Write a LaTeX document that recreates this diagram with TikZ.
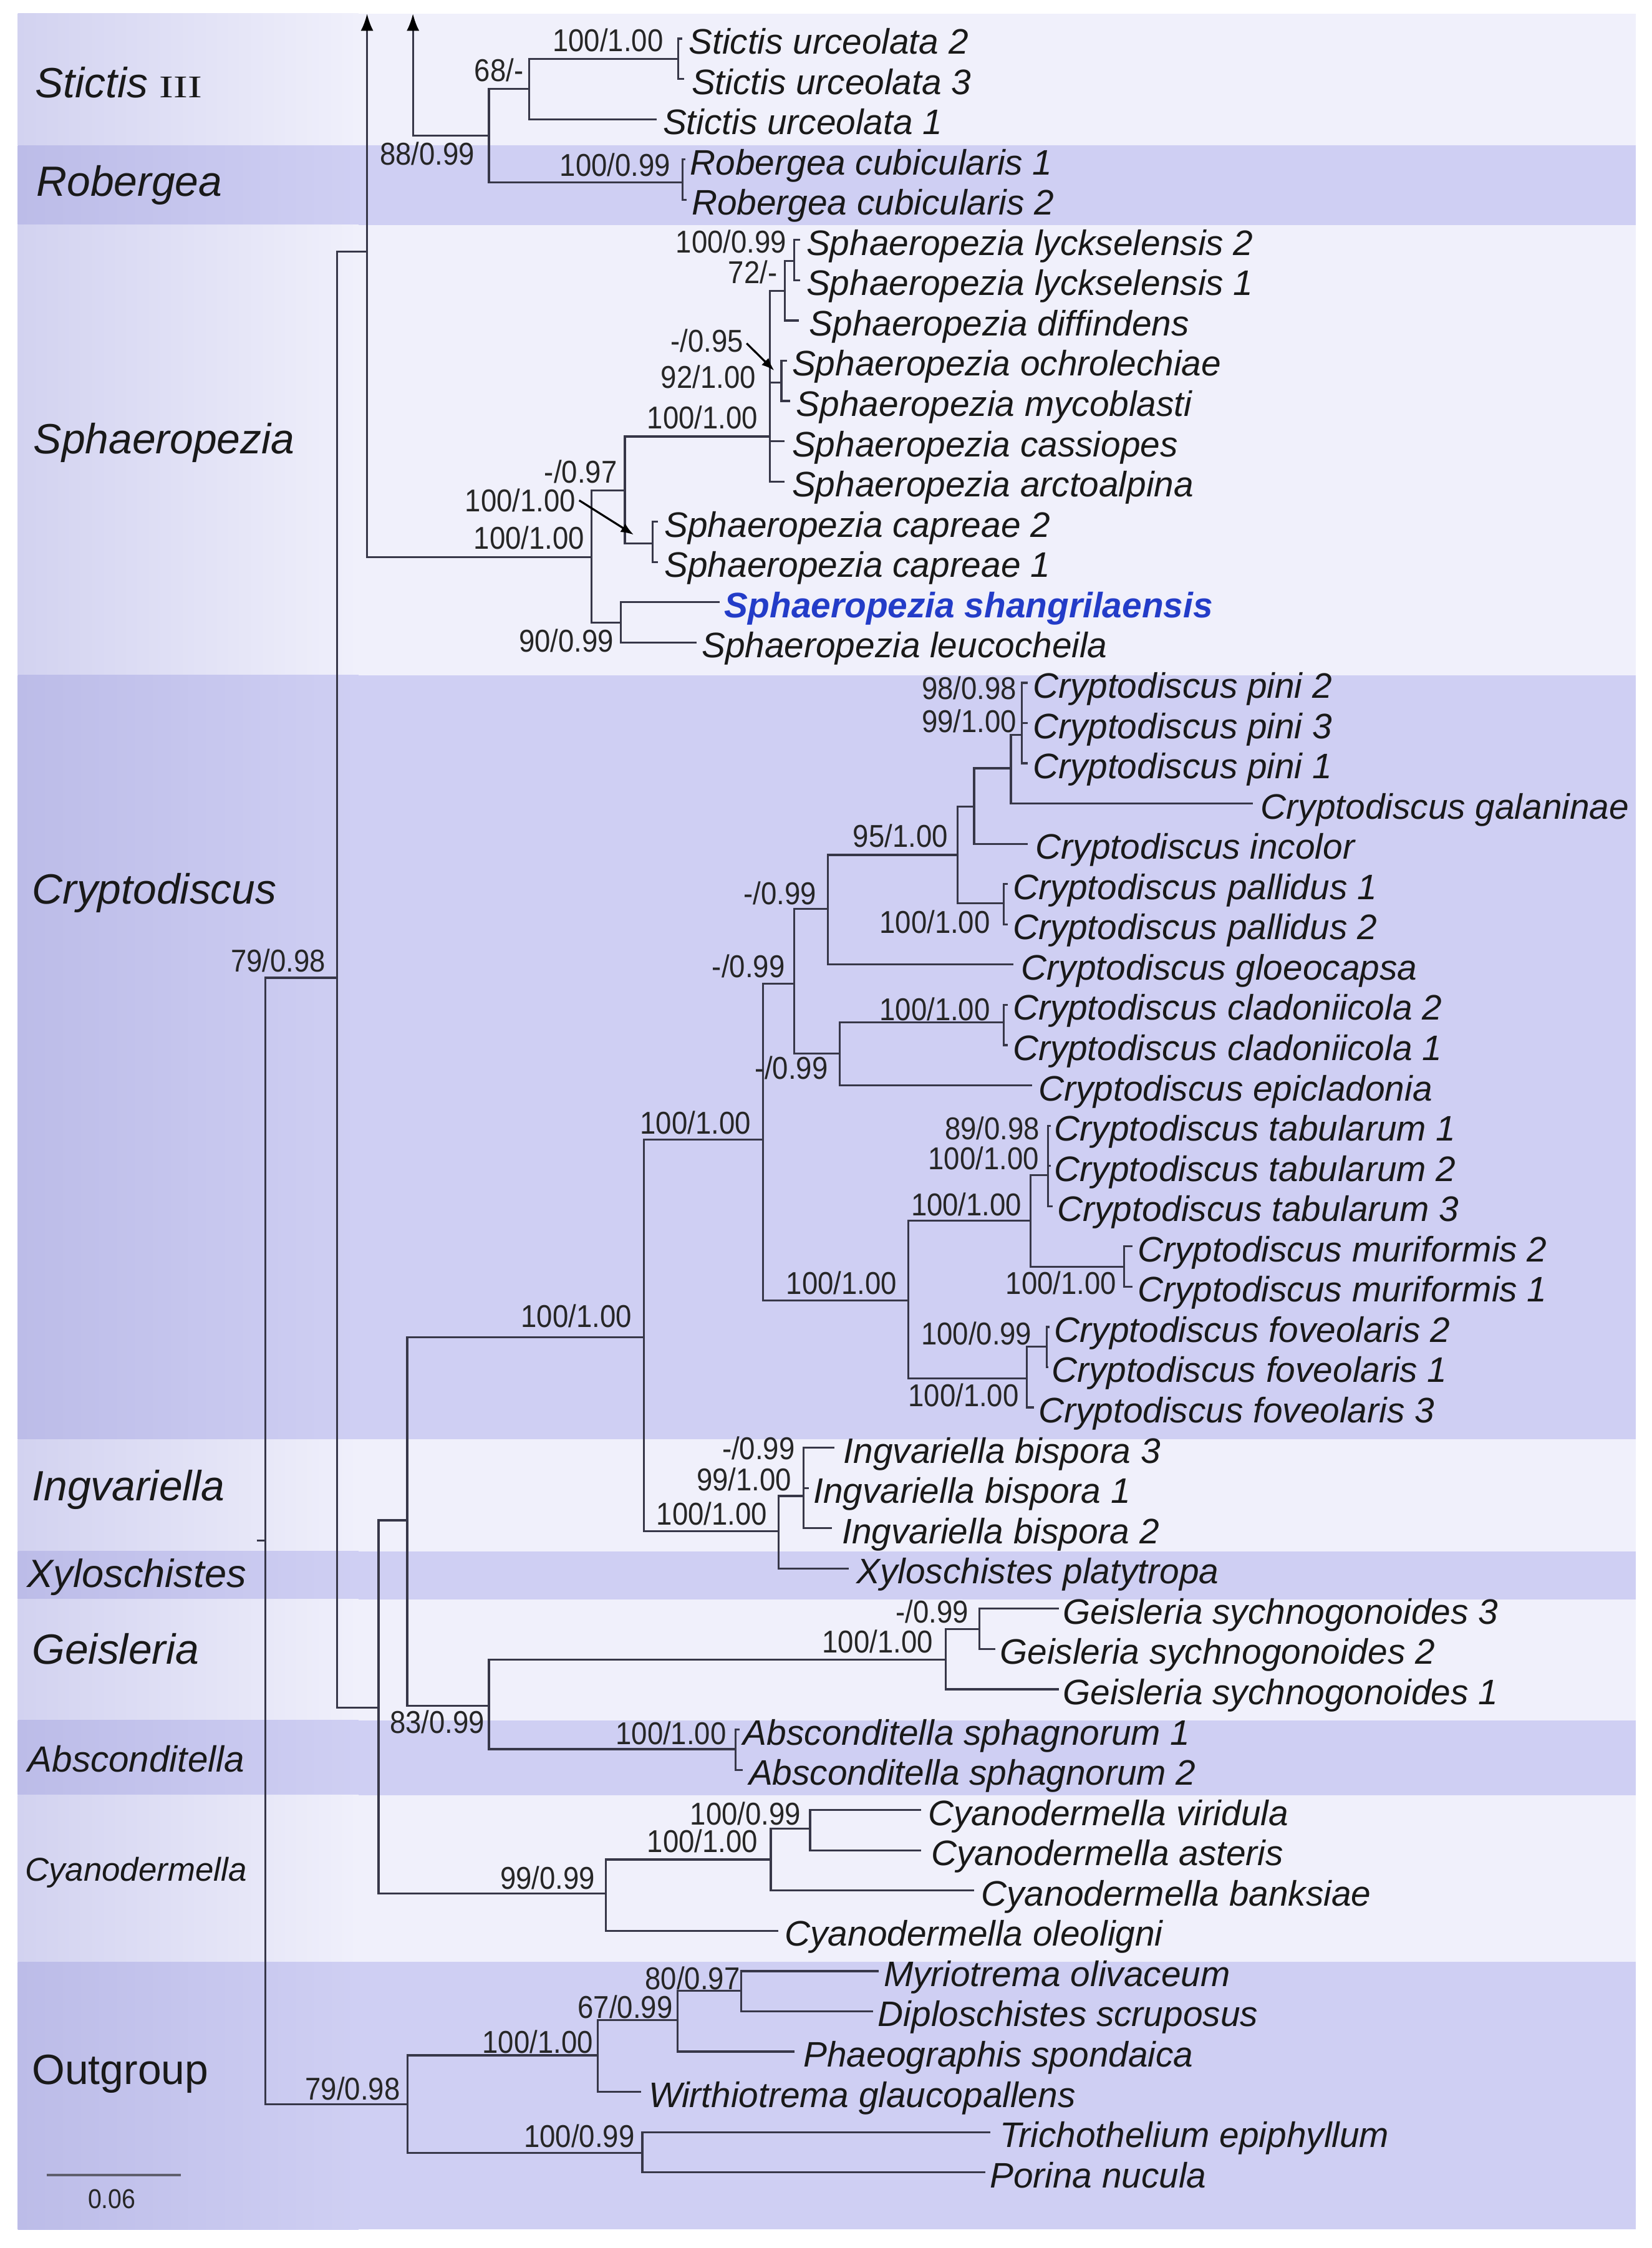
\documentclass[tikz,border=0pt]{standalone}
\usepackage{fontspec}
\setmainfont{Liberation Sans}
\newfontfamily\supfont[FakeStretch=0.9]{Liberation Sans}
\newfontfamily\romfont{Liberation Serif}
\usetikzlibrary{arrows.meta}
\definecolor{lightband}{RGB}{240,240,251}
\definecolor{lightleft}{RGB}{210,210,240}
\definecolor{darkband}{RGB}{207,207,243}
\definecolor{darkleft}{RGB}{188,188,232}
\definecolor{branch}{RGB}{55,55,72}
\definecolor{hilite}{RGB}{35,60,200}
\tikzset{
 br/.style={draw=branch, line width=0.7pt},
 taxon/.style={anchor=base west, inner sep=0pt, font=\fontsize{12.35}{14}\selectfont\itshape, text=black!90},
 supp/.style={anchor=center, inner sep=0pt, font=\supfont\fontsize{11}{13}\selectfont, text=black!85},
 grp/.style={anchor=base west, inner sep=0pt, font=\fontsize{14.75}{17}\selectfont\itshape, text=black!90},
 ptr/.style={draw=black, line width=0.7pt, -{Latex[length=4.5pt,width=3.4pt]}},
 uparrow/.style={-{Latex[length=6pt,width=4.4pt,fill=black,color=black]}},
}
\newcommand\band[4]{\fill[#4] (12.5,#1) rectangle (1141,#2);
  \shade[left color=#3, right color=#4] (12.5,#1) rectangle (250,#2);}
\newcommand\Leaf[5]{\coordinate (t#1) at (#2,#4-2); \node[taxon] (l#1) at (#3,#4+8.6) {#5};}
\newcommand\Sup[4]{\node[supp] (#1) at (#2,#3) {#4};}
\begin{document}
\begin{tikzpicture}[x=0.5pt,y=-0.5pt]
\useasboundingbox (0,0) rectangle (1152,1568);
% ---------- background bands ----------
\band{9.4}{101.5}{lightleft}{lightband}
\band{101.5}{157}{darkleft}{darkband}
\band{157}{471}{lightleft}{lightband}
\band{471}{1004}{darkleft}{darkband}
\band{1004}{1082}{lightleft}{lightband}
\band{1082}{1115.5}{darkleft}{darkband}
\band{1115.5}{1200}{lightleft}{lightband}
\band{1200}{1252}{darkleft}{darkband}
\band{1252}{1368.5}{lightleft}{lightband}
\band{1368.5}{1555}{darkleft}{darkband}
% ---------- group labels ----------
\node[grp] (gStictis) at (24,68) {Stictis {\upshape\romfont\fontsize{11}{12}\selectfont\scalebox{1.35}[1]{III}}};
\node[grp] (gRobergea) at (25,137) {Robergea};
\node[grp] (gSphaeropezia) at (23,316.5) {Sphaeropezia};
\node[grp] (gCryptodiscus) at (22,630.5) {Cryptodiscus};
\node[grp] (gIngvariella) at (22,1046.5) {Ingvariella};
\node[grp,font=\fontsize{13.75}{16}\selectfont\itshape] (gXyloschistes) at (18.5,1107) {Xyloschistes};
\node[grp] (gGeisleria) at (22,1160.5) {Geisleria};
\node[grp,font=\fontsize{12.7}{15}\selectfont\itshape] (gAbsconditella) at (19,1236) {Absconditella};
\node[grp,font=\fontsize{11.5}{14}\selectfont\itshape] (gCyanodermella) at (17,1312) {Cyanodermella};
\node[grp,font=\fontsize{14.75}{17}\selectfont\upshape] (gOutgroup) at (22,1454) {Outgroup};
% ---------- leaves ----------
\Leaf{st2}{476}{480}{29.0}{Stictis urceolata 2}
\Leaf{st3}{477}{482}{57.1}{Stictis urceolata 3}
\Leaf{st1}{458}{462}{85.2}{Stictis urceolata 1}
\Leaf{rob1}{478}{481}{113.2}{Robergea cubicularis 1}
\Leaf{rob2}{479}{482}{141.3}{Robergea cubicularis 2}
\Leaf{lyck2}{558}{562}{169.4}{Sphaeropezia lyckselensis 2}
\Leaf{lyck1}{558}{562}{197.5}{Sphaeropezia lyckselensis 1}
\Leaf{diff}{557}{564}{225.6}{Sphaeropezia diffindens}
\Leaf{ochro}{549}{552}{253.6}{Sphaeropezia ochrolechiae}
\Leaf{myco}{551}{555}{281.7}{Sphaeropezia mycoblasti}
\Leaf{cass}{547}{552}{309.8}{Sphaeropezia cassiopes}
\Leaf{arcto}{547}{552}{337.9}{Sphaeropezia arctoalpina}
\Leaf{cap2}{459}{463}{366.0}{Sphaeropezia capreae 2}
\Leaf{cap1}{459}{463}{394.0}{Sphaeropezia capreae 1}
\Leaf{shang}{502}{505}{422.1}{\bfseries\color{hilite}Sphaeropezia shangrilaensis}
\Leaf{leuco}{486}{489}{450.2}{Sphaeropezia leucocheila}
\Leaf{pini2}{717}{720}{478.3}{Cryptodiscus pini 2}
\Leaf{pini3}{717}{720}{506.4}{Cryptodiscus pini 3}
\Leaf{pini1}{717}{720}{534.4}{Cryptodiscus pini 1}
\Leaf{galan}{874}{879}{562.5}{Cryptodiscus galaninae}
\Leaf{incol}{717}{722}{590.6}{Cryptodiscus incolor}
\Leaf{pal1}{703}{706}{618.7}{Cryptodiscus pallidus 1}
\Leaf{pal2}{703}{706}{646.8}{Cryptodiscus pallidus 2}
\Leaf{gloeo}{707}{712}{674.8}{Cryptodiscus gloeocapsa}
\Leaf{clad2}{703}{706}{702.9}{Cryptodiscus cladoniicola 2}
\Leaf{clad1}{703}{706}{731.0}{Cryptodiscus cladoniicola 1}
\Leaf{epicl}{720}{724}{759.1}{Cryptodiscus epicladonia}
\Leaf{tab1}{733}{735}{787.2}{Cryptodiscus tabularum 1}
\Leaf{tab2}{733}{735}{815.2}{Cryptodiscus tabularum 2}
\Leaf{tab3}{734}{737}{843.3}{Cryptodiscus tabularum 3}
\Leaf{mur2}{790}{793}{871.4}{Cryptodiscus muriformis 2}
\Leaf{mur1}{790}{793}{899.5}{Cryptodiscus muriformis 1}
\Leaf{fov2}{732}{735}{927.6}{Cryptodiscus foveolaris 2}
\Leaf{fov1}{731}{733}{955.6}{Cryptodiscus foveolaris 1}
\Leaf{fov3}{721}{724}{983.7}{Cryptodiscus foveolaris 3}
\Leaf{bis3}{582}{588}{1011.8}{Ingvariella bispora 3}
\Leaf{bis1}{564}{567}{1039.9}{Ingvariella bispora 1}
\Leaf{bis2}{580}{587}{1068.0}{Ingvariella bispora 2}
\Leaf{xylo}{592}{597}{1096.1}{Xyloschistes platytropa}
\Leaf{gs3}{738.5}{741}{1124.1}{Geisleria sychnogonoides 3}
\Leaf{gs2}{694}{697}{1152.2}{Geisleria sychnogonoides 2}
\Leaf{gs1}{738.5}{741}{1180.3}{Geisleria sychnogonoides 1}
\Leaf{abs1}{516}{518}{1208.4}{Absconditella sphagnorum 1}
\Leaf{abs2}{518}{522}{1236.5}{Absconditella sphagnorum 2}
\Leaf{vir}{642.5}{647}{1264.5}{Cyanodermella viridula}
\Leaf{ast}{642.5}{649}{1292.6}{Cyanodermella asteris}
\Leaf{bank}{679.4}{684}{1320.7}{Cyanodermella banksiae}
\Leaf{oleo}{543}{547}{1348.8}{Cyanodermella oleoligni}
\Leaf{myrio}{613}{616}{1376.9}{Myriotrema olivaceum}
\Leaf{diplo}{609}{612}{1404.9}{Diploschistes scruposus}
\Leaf{phaeo}{554}{560}{1433.0}{Phaeographis spondaica}
\Leaf{wirth}{447}{452}{1461.1}{Wirthiotrema glaucopallens}
\Leaf{tricho}{690.5}{697}{1489.2}{Trichothelium epiphyllum}
\Leaf{porina}{687}{690}{1517.3}{Porina nucula}
% ---------- internal nodes ----------
\coordinate (stub) at (179,1074.7);
\coordinate (rootN) at (185,1074.7);
\coordinate (ingN) at (235,682);
\coordinate (outN) at (284.3,1467.6);
\coordinate (a256) at (256,175.5);
\coordinate (top1) at (256,9.5);
\coordinate (top2) at (288,9.5);
\coordinate (strN) at (341,94.7);
\coordinate (stN) at (369,62);
\coordinate (st23) at (473,41);
\coordinate (robN) at (476,127.2);
\coordinate (sphN) at (412.5,388.6);
\coordinate (s435) at (435.8,342.2);
\coordinate (s433) at (432.9,434.2);
\coordinate (s537) at (537,304.5);
\coordinate (s545) at (547.4,203);
\coordinate (s553) at (553.9,182);
\coordinate (s548) at (545,266.8);
\coordinate (capN) at (455.3,379.2);
\coordinate (lowN) at (264,1191);
\coordinate (midN) at (284,1060.4);
\coordinate (cyaN) at (422.4,1320.6);
\coordinate (crN) at (449,932.6);
\coordinate (gaN) at (341,1189.7);
\coordinate (cryN) at (532,794.7);
\coordinate (ixN) at (543,1068);
\coordinate (c554) at (554,686.1);
\coordinate (c633) at (633.6,907.2);
\coordinate (c577) at (577.5,633.8);
\coordinate (c585) at (585.6,734.9);
\coordinate (c668) at (668,596.3);
\coordinate (c679) at (679.4,562.7);
\coordinate (c700p) at (700,629.9);
\coordinate (c705) at (705,535.9);
\coordinate (c712) at (712.6,512.7);
\coordinate (c700c) at (700,713.2);
\coordinate (c718) at (718.6,851.5);
\coordinate (c716) at (716,961.5);
\coordinate (c731) at (731,819.5);
\coordinate (c784) at (784,883.5);
\coordinate (c730) at (730,939.2);
\coordinate (i560) at (560.5,1043.4);
\coordinate (geiN) at (659.5,1157.5);
\coordinate (g683) at (683,1136.3);
\coordinate (absN) at (513,1220);
\coordinate (cy537) at (537.6,1297);
\coordinate (cy565) at (565,1275.4);
\coordinate (o417) at (417,1433.6);
\coordinate (o448) at (448,1501.8);
\coordinate (o472) at (472.6,1409);
\coordinate (o517) at (517,1388.4);
% ---------- branches ----------
\draw[br] (stub) -- (rootN);
\draw[br] (rootN) |- (ingN);
\draw[br] (rootN) |- (outN);
\draw[br] (ingN) |- (a256);
\draw[br] (ingN) |- (lowN);
\draw[br,uparrow] (sphN) -| (top1);
\draw[br,uparrow] (strN) -| (top2);
\draw[br] (strN) |- (stN);
\draw[br] (strN) |- (robN);
\draw[br] (stN) |- (st23);
\draw[br] (stN) |- (tst1);
\draw[br] (st23) |- (tst2);
\draw[br] (st23) |- (tst3);
\draw[br] (robN) |- (trob1);
\draw[br] (robN) |- (trob2);
\draw[br] (sphN) |- (s435);
\draw[br] (sphN) |- (s433);
\draw[br] (s435) |- (s537);
\draw[br] (s435) |- (capN);
\draw[br] (s537) |- (s545);
\draw[br] (s537) |- (s548);
\draw[br] (s537) |- (tcass);
\draw[br] (s537) |- (tarcto);
\draw[br] (s545) |- (s553);
\draw[br] (s545) |- (tdiff);
\draw[br] (s553) |- (tlyck2);
\draw[br] (s553) |- (tlyck1);
\draw[br] (s548) |- (tochro);
\draw[br] (s548) |- (tmyco);
\draw[br] (capN) |- (tcap2);
\draw[br] (capN) |- (tcap1);
\draw[br] (s433) |- (tshang);
\draw[br] (s433) |- (tleuco);
\draw[br] (lowN) |- (midN);
\draw[br] (lowN) |- (cyaN);
\draw[br] (midN) |- (crN);
\draw[br] (midN) |- (gaN);
\draw[br] (crN) |- (cryN);
\draw[br] (crN) |- (ixN);
\draw[br] (cryN) |- (c554);
\draw[br] (cryN) |- (c633);
\draw[br] (c554) |- (c577);
\draw[br] (c554) |- (c585);
\draw[br] (c577) |- (c668);
\draw[br] (c577) |- (tgloeo);
\draw[br] (c668) |- (c679);
\draw[br] (c668) |- (c700p);
\draw[br] (c679) |- (c705);
\draw[br] (c679) |- (tincol);
\draw[br] (c705) |- (c712);
\draw[br] (c705) |- (tgalan);
\draw[br] (c712) |- (tpini2);
\draw[br] (c712) |- (tpini3);
\draw[br] (c712) |- (tpini1);
\draw[br] (c700p) |- (tpal1);
\draw[br] (c700p) |- (tpal2);
\draw[br] (c585) |- (c700c);
\draw[br] (c585) |- (tepicl);
\draw[br] (c700c) |- (tclad2);
\draw[br] (c700c) |- (tclad1);
\draw[br] (c633) |- (c718);
\draw[br] (c633) |- (c716);
\draw[br] (c718) |- (c731);
\draw[br] (c718) |- (c784);
\draw[br] (c731) |- (ttab1);
\draw[br] (c731) |- (ttab2);
\draw[br] (c731) |- (ttab3);
\draw[br] (c784) |- (tmur2);
\draw[br] (c784) |- (tmur1);
\draw[br] (c716) |- (c730);
\draw[br] (c716) |- (tfov3);
\draw[br] (c730) |- (tfov2);
\draw[br] (c730) |- (tfov1);
\draw[br] (ixN) |- (i560);
\draw[br] (ixN) |- (txylo);
\draw[br] (i560) |- (tbis3);
\draw[br] (i560) |- (tbis1);
\draw[br] (i560) |- (tbis2);
\draw[br] (gaN) |- (geiN);
\draw[br] (gaN) |- (absN);
\draw[br] (geiN) |- (g683);
\draw[br] (geiN) |- (tgs1);
\draw[br] (g683) |- (tgs3);
\draw[br] (g683) |- (tgs2);
\draw[br] (absN) |- (tabs1);
\draw[br] (absN) |- (tabs2);
\draw[br] (cyaN) |- (cy537);
\draw[br] (cyaN) |- (toleo);
\draw[br] (cy537) |- (cy565);
\draw[br] (cy537) |- (tbank);
\draw[br] (cy565) |- (tvir);
\draw[br] (cy565) |- (tast);
\draw[br] (outN) |- (o417);
\draw[br] (outN) |- (o448);
\draw[br] (o417) |- (o472);
\draw[br] (o417) |- (twirth);
\draw[br] (o472) |- (o517);
\draw[br] (o472) |- (tphaeo);
\draw[br] (o517) |- (tmyrio);
\draw[br] (o517) |- (tdiplo);
\draw[br] (o448) |- (ttricho);
\draw[br] (o448) |- (tporina);
% ---------- support values ----------
\Sup{sp1}{424}{28}{100/1.00}
\Sup{sp2}{348}{49}{68/-}
\Sup{sp3}{298}{107}{88/0.99}
\Sup{sp4}{429}{115}{100/0.99}
\Sup{sp5}{510}{168.6}{100/0.99}
\Sup{sp6}{525}{190}{72/-}
\Sup{sp7}{493}{237.5}{-/0.95}
\Sup{sp8}{494}{263}{92/1.00}
\Sup{sp9}{490}{291}{100/1.00}
\Sup{sp10}{405}{329}{-/0.97}
\Sup{sp11}{363}{349}{100/1.00}
\Sup{sp12}{369}{375}{100/1.00}
\Sup{sp13}{395}{447}{90/0.99}
\Sup{sp14}{676}{480}{98/0.98}
\Sup{sp15}{676}{503}{99/1.00}
\Sup{sp16}{628}{583}{95/1.00}
\Sup{sp17}{544}{623}{-/0.99}
\Sup{sp18}{652}{643}{100/1.00}
\Sup{sp19}{522}{674}{-/0.99}
\Sup{sp20}{652}{704}{100/1.00}
\Sup{sp21}{552}{745}{-/0.99}
\Sup{sp22}{692}{787}{89/0.98}
\Sup{sp23}{686}{808}{100/1.00}
\Sup{sp24}{485}{783}{100/1.00}
\Sup{sp25}{674}{840}{100/1.00}
\Sup{sp26}{587}{895}{100/1.00}
\Sup{sp27}{740}{895}{100/1.00}
\Sup{sp28}{681}{930}{100/0.99}
\Sup{sp29}{672}{973}{100/1.00}
\Sup{sp30}{402}{918}{100/1.00}
\Sup{sp31}{529}{1010}{-/0.99}
\Sup{sp32}{519}{1032}{99/1.00}
\Sup{sp33}{496.5}{1056}{100/1.00}
\Sup{sp34}{650}{1124}{-/0.99}
\Sup{sp35}{612}{1145}{100/1.00}
\Sup{sp36}{305}{1201}{83/0.99}
\Sup{sp37}{468}{1209}{100/1.00}
\Sup{sp38}{520}{1265}{100/0.99}
\Sup{sp39}{490}{1284}{100/1.00}
\Sup{sp40}{382}{1310}{99/0.99}
\Sup{sp41}{483}{1380}{80/0.97}
\Sup{sp42}{436}{1400}{67/0.99}
\Sup{sp43}{375}{1424}{100/1.00}
\Sup{sp44}{246}{1457}{79/0.98}
\Sup{sp45}{404}{1490}{100/0.99}
\Sup{sp46}{194}{670}{79/0.98}
% ---------- pointer arrows ----------
\coordinate (ae1) at (540,258.5);
\coordinate (ae2) at (442,373);
\draw[ptr] ([xshift=1pt,yshift=-1pt]sp7.east) -- (ae1);
\draw[ptr] ([xshift=1pt]sp11.east) -- (ae2);
% ---------- scale bar ----------
\coordinate (sb1) at (32.6,1517);
\coordinate (sb2) at (126,1517);
\draw[draw=branch!80, line width=0.75pt] (sb1) -- (sb2);
\node[supp,font=\supfont\fontsize{9.5}{11}\selectfont] (sbl) at (78,1534) {0.06};
\end{tikzpicture}
\end{document}
